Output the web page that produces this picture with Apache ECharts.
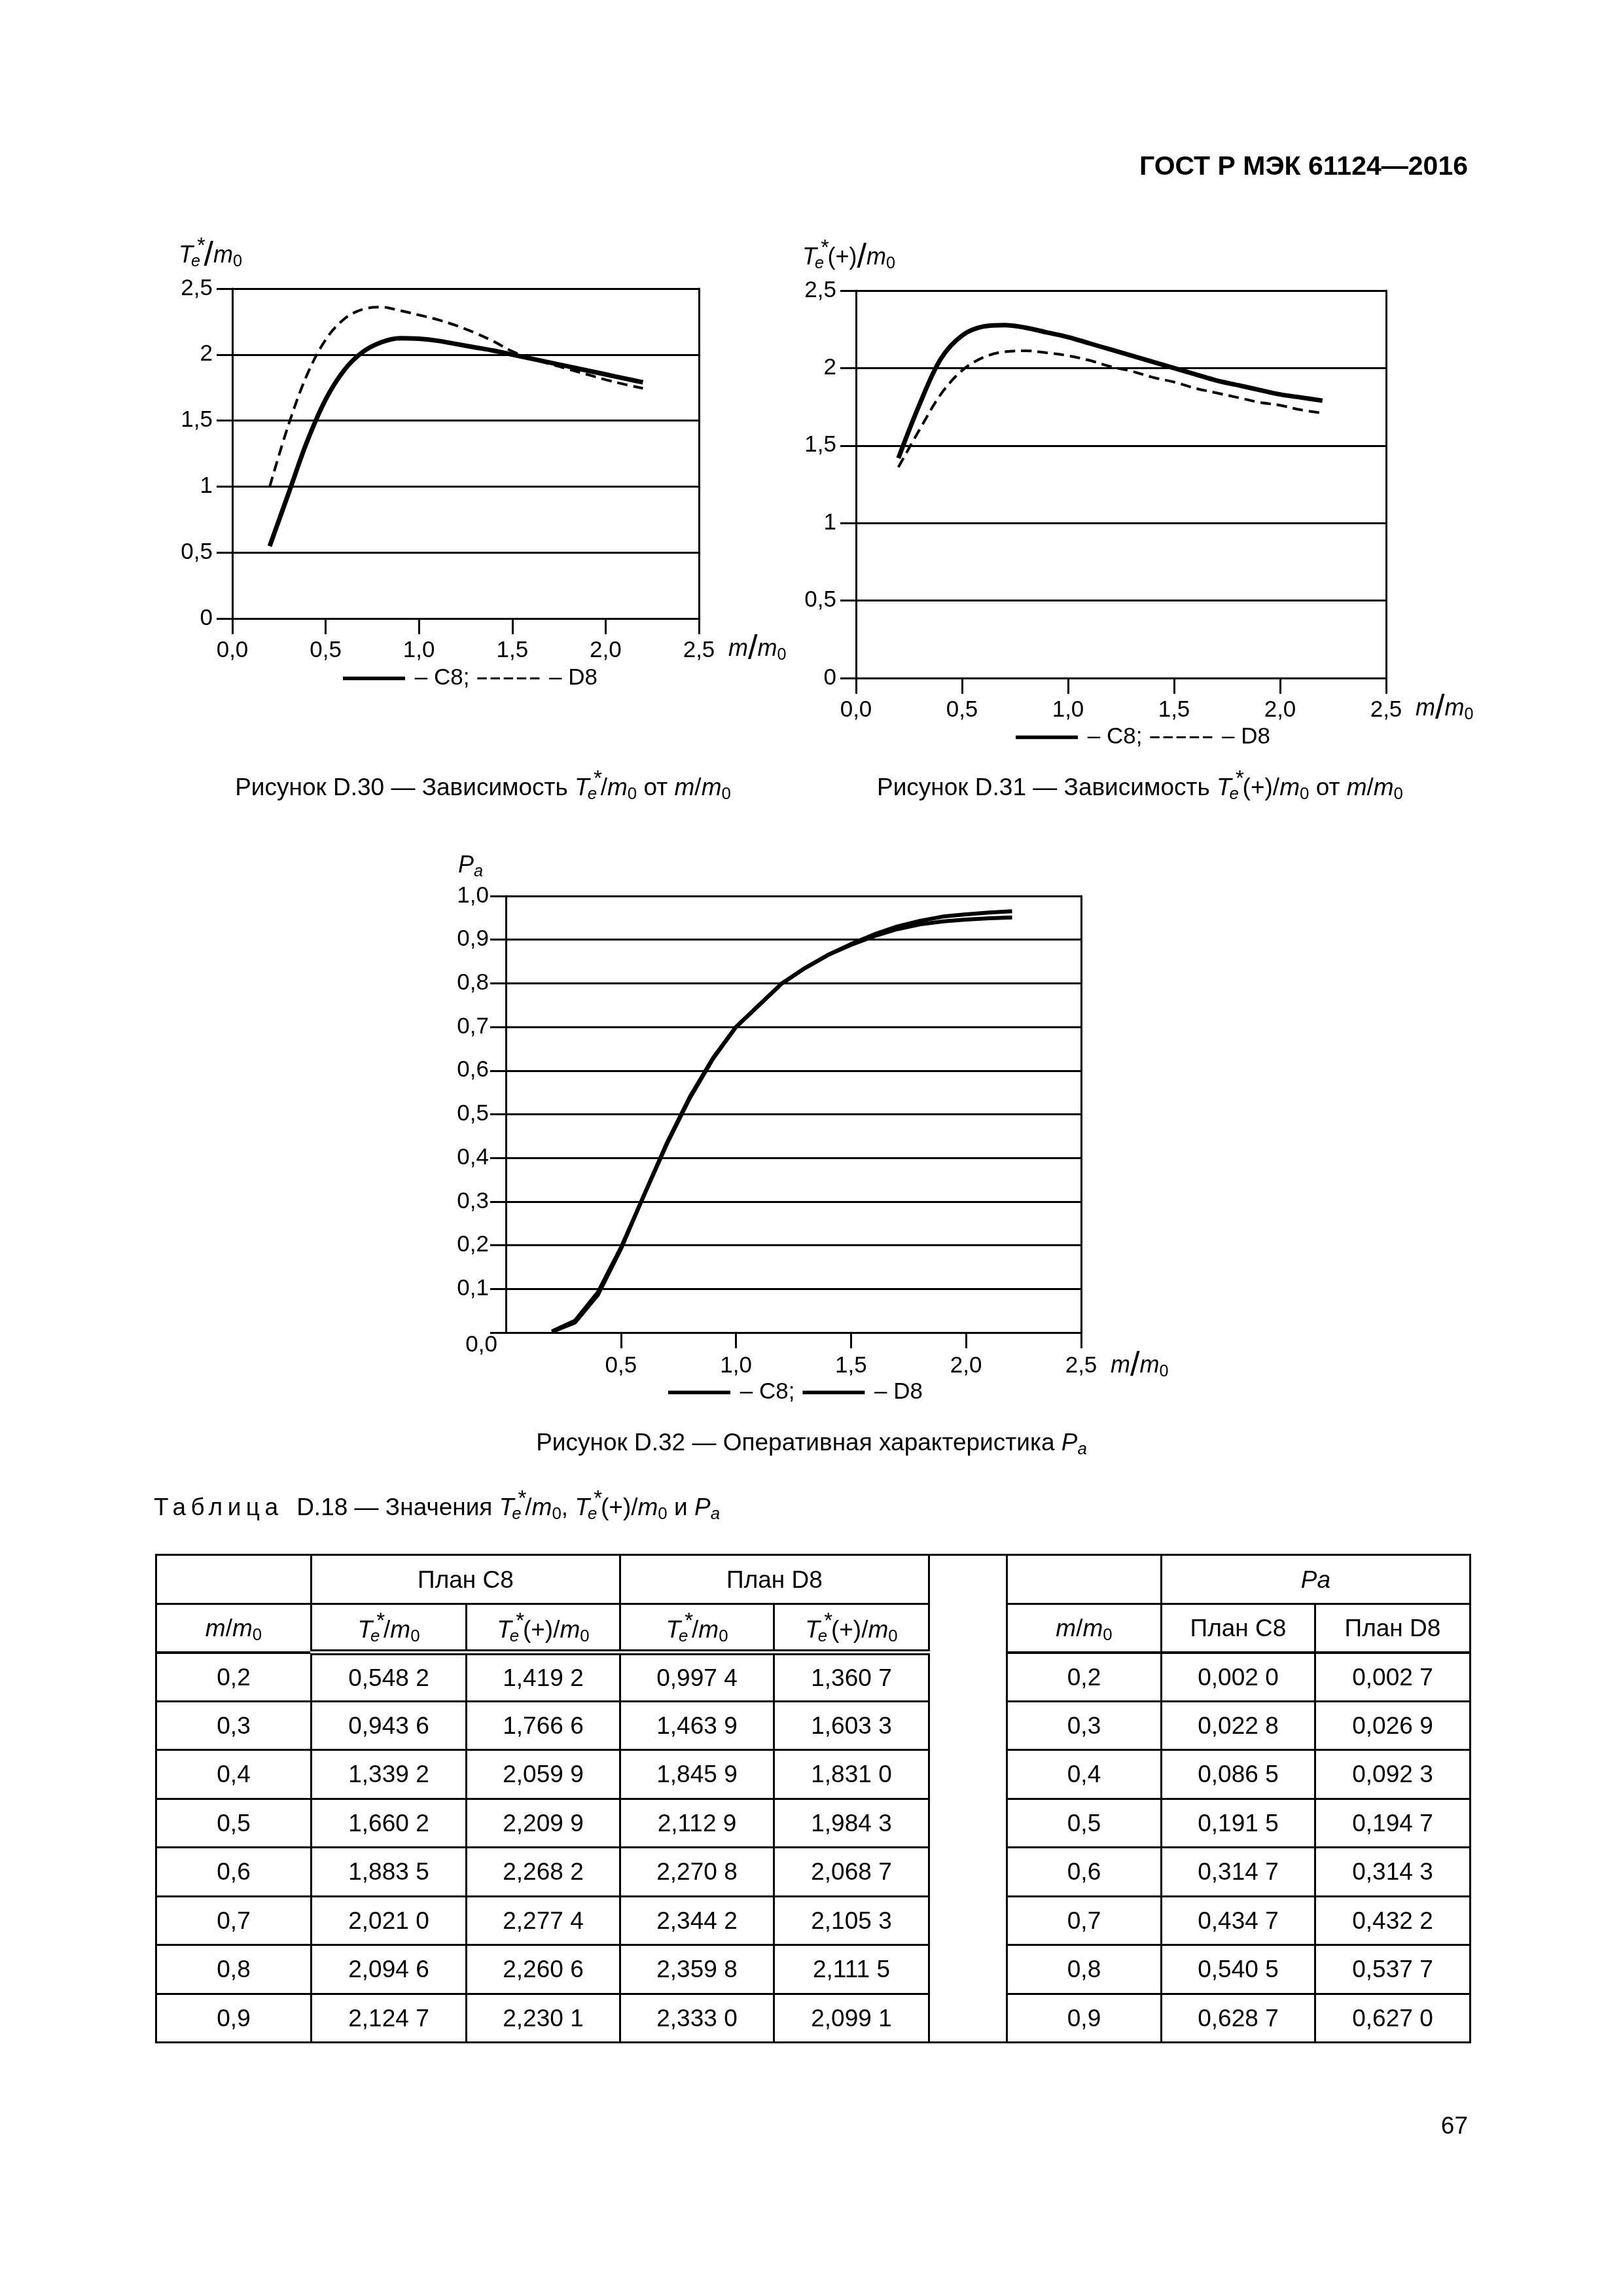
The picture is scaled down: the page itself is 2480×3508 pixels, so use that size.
<!DOCTYPE html>
<html><head><meta charset="utf-8">
<script src="https://cdn.jsdelivr.net/npm/echarts@6/dist/echarts.min.js"></script>
<style>
html,body{margin:0;padding:0;background:#fff;}
body{width:2480px;height:3508px;position:relative;overflow:hidden;font-family:"Liberation Sans",Arial,sans-serif;color:#000;}
#chart{position:absolute;left:0;top:0;width:2480px;height:3508px;}
.t{position:absolute;white-space:nowrap;line-height:1;z-index:2;}
.ss{display:inline-block;position:relative;width:0.46em;height:1em;}
.ss .sb{position:absolute;left:-0.12em;top:0.87em;font-size:0.7em;line-height:1;font-style:italic;}
.ss .sp{position:absolute;left:0.19em;top:-0.18em;font-size:0.9em;line-height:1;}
sub{font-size:0.7em;vertical-align:-0.25em;line-height:0;}
.sl{font-size:1.45em;vertical-align:-0.1em;line-height:0;}
#tbl{position:absolute;left:237px;top:2374px;border-collapse:collapse;table-layout:fixed;font-size:37px;z-index:2;}
#tbl td{border:3px solid #000;text-align:center;vertical-align:middle;padding:0;line-height:1;}
#tbl tr.hd td.dbl{border-bottom:9px double #000;}
#tbl tr.hd td.sg{border-bottom:4px solid #000;}
</style></head>
<body>
<div id="chart"></div>
<div id="over"></div>
<script>
// ---------- data ----------
const mRatio = [0.2,0.3,0.4,0.5,0.6,0.7,0.8,0.9,1.0,1.1,1.2,1.3,1.4,1.5,1.6,1.7,1.8,1.9,2.0,2.1,2.2];
const teC8  = [0.5482,0.9436,1.3392,1.6602,1.8835,2.0210,2.0946,2.1247,2.12,2.105,2.08,2.055,2.03,2.00,1.97,1.94,1.91,1.88,1.85,1.82,1.79];
const teD8  = [0.9974,1.4639,1.8459,2.1129,2.2708,2.3442,2.3598,2.3330,2.30,2.265,2.22,2.165,2.10,2.025,1.97,1.93,1.89,1.85,1.81,1.775,1.745];
const tepC8 = [1.4192,1.7666,2.0599,2.2099,2.2682,2.2774,2.2606,2.2301,2.20,2.16,2.12,2.08,2.04,2.00,1.96,1.92,1.89,1.86,1.83,1.81,1.79];
const tepD8 = [1.3607,1.6033,1.8310,1.9843,2.0687,2.1053,2.1115,2.0991,2.08,2.05,2.01,1.98,1.94,1.91,1.87,1.84,1.81,1.78,1.76,1.73,1.71];
const paC8  = [0.0020,0.0228,0.0865,0.1915,0.3147,0.4347,0.5405,0.6287,0.70,0.75,0.80,0.835,0.865,0.89,0.912,0.930,0.943,0.953,0.958,0.962,0.965];
const paD8  = [0.0027,0.0269,0.0923,0.1947,0.3143,0.4322,0.5377,0.6270,0.70,0.75,0.80,0.835,0.865,0.888,0.908,0.924,0.935,0.942,0.946,0.949,0.951];
const tableRows = 8; // first 8 points (0,2 ... 0,9) are tabulated

// ---------- text overlays ----------
const TE = '<i>T</i><span class="ss"><span class="sp">*</span><span class="sb">e</span></span>';
const M0 = '<i>m</i><sub>0</sub>';
const MM0 = '<i>m</i>/<i>m</i><sub>0</sub>';
const MM0big = '<i>m</i><span class="sl">/</span><i>m</i><sub>0</sub>';
const FONT = '"Liberation Sans", Arial, sans-serif';
const over = document.getElementById('over');
function place(html, o){
  const d = document.createElement('div');
  d.className = 't';
  const s = o.size;
  d.style.fontSize = s + 'px';
  if (o.bold) d.style.fontWeight = 'bold';
  d.style.top = (o.base - 0.8465 * s) + 'px';
  if (o.left !== undefined) d.style.left = o.left + 'px';
  if (o.right !== undefined) d.style.right = (2480 - o.right) + 'px';
  if (o.cx !== undefined) { d.style.left = o.cx + 'px'; d.style.transform = 'translateX(-50%)'; }
  d.innerHTML = html;
  over.appendChild(d);
}
place('ГОСТ Р МЭК 61124—2016', {right:2243, base:268, size:41, bold:true});
place(TE + '<span class="sl">/</span>' + M0, {left:273, base:395, size:36});
place(TE + '(+)<span class="sl">/</span>' + M0, {left:1226, base:398, size:36});
place('<i>P</i><sub><i>a</i></sub>', {left:700, base:1333, size:36});
place(MM0big, {left:1113, base:1002, size:36});
place(MM0big, {left:2163, base:1093, size:36});
place(MM0big, {left:1697, base:2097, size:36});
place('Рисунок D.30 — Зависимость ' + TE + '/' + M0 + ' от ' + MM0, {cx:738, base:1209, size:37});
place('Рисунок D.31 — Зависимость ' + TE + '(+)/' + M0 + ' от ' + MM0, {cx:1742, base:1209, size:37});
place('Рисунок D.32 — Оперативная характеристика <i>P</i><sub><i>a</i></sub>', {cx:1240, base:2216, size:37});
place('<span style="letter-spacing:7.5px">Таблица</span>&nbsp; D.18 — Значения ' + TE + '/' + M0 + ', ' + TE + '(+)/' + M0 + ' и <i>P</i><sub><i>a</i></sub>', {left:235, base:2309, size:37});
place('67', {right:2243, base:3260, size:37});

// ---------- table ----------
const fmt4 = v => { const s = v.toFixed(4).replace('.', ','); return s.slice(0,-1) + ' ' + s.slice(-1); };
const fmt1 = v => v.toFixed(1).replace('.', ',');
const colW = [237,237,235,235,237,119,236,235,237];
let h = '<table id="tbl"><colgroup>' + colW.map(w => '<col style="width:' + w + 'px">').join('') + '</colgroup>';
h += '<tr style="height:75px"><td></td><td colspan="2">План C8</td><td colspan="2">План D8</td><td rowspan="10"></td><td></td><td colspan="2"><i>Pa</i></td></tr>';
h += '<tr style="height:74px" class="hd"><td class="sg">' + MM0 + '</td><td class="dbl">' + TE + '/' + M0 + '</td><td class="dbl">' + TE + '(+)/' + M0 +
     '</td><td class="dbl">' + TE + '/' + M0 + '</td><td class="dbl">' + TE + '(+)/' + M0 + '</td><td class="sg">' + MM0 + '</td><td class="sg">План C8</td><td class="sg">План D8</td></tr>';
for (let i = 0; i < tableRows; i++) {
  h += '<tr style="height:74.5px"><td>' + fmt1(mRatio[i]) + '</td><td>' + fmt4(teC8[i]) + '</td><td>' + fmt4(tepC8[i]) + '</td><td>' + fmt4(teD8[i]) + '</td><td>' + fmt4(tepD8[i]) +
       '</td><td>' + fmt1(mRatio[i]) + '</td><td>' + fmt4(paC8[i]) + '</td><td>' + fmt4(paD8[i]) + '</td></tr>';
}
h += '</table>';
over.insertAdjacentHTML('beforeend', h);

// ---------- charts ----------
const pairs = ys => mRatio.map((x, i) => [x, ys[i]]);
const lab = {fontSize:35, fontFamily:FONT, color:'#000'};
const blk = {color:'#000', width:3};
function xAx(grid, showMin, margin){
  return {type:'value', gridIndex:grid, min:0, max:2.5, interval:0.5,
    axisLine:{show:true, onZero:false, lineStyle:blk},
    axisTick:{show:true, length:24, inside:false, lineStyle:blk},
    splitLine:{show:false},
    axisLabel:Object.assign({margin:margin, showMinLabel:showMin, formatter:v => fmt1(v)}, lab)};
}
function yAx(grid, max, step, fmt, margin, rich){
  const a = {type:'value', gridIndex:grid, min:0, max:max, interval:step,
    axisLine:{show:true, onZero:false, lineStyle:blk},
    axisTick:{show:true, length:24, inside:false, lineStyle:blk},
    splitLine:{show:true, lineStyle:blk},
    axisLabel:Object.assign({margin:margin, formatter:fmt}, lab)};
  if (rich) a.axisLabel.rich = rich;
  return a;
}
function yRight(grid, max){
  return {type:'value', gridIndex:grid, min:0, max:max, position:'right',
    axisLine:{show:true, onZero:false, lineStyle:blk}, axisTick:{show:false}, axisLabel:{show:false}, splitLine:{show:false}};
}
const yfmt = v => String(v).replace('.', ',');
const paRich = {n:Object.assign({padding:[0,13,0,0]}, lab), z:Object.assign({padding:[38,0,0,0]}, lab)};
const paFmt = v => v === 0 ? '{z|0,0}' : '{n|' + fmt1(v) + '}';

function line(name, data, xi, yi, width, dash, smooth){
  return {type:'line', name:name, xAxisIndex:xi, yAxisIndex:yi, data:pairs(data), symbol:'none', smooth:smooth,
    lineStyle:{color:'#000', width:width, type:dash || 'solid'}, itemStyle:{color:'#000'}, z:3};
}
// legend icons: thick bar for solid lines, five thin dashes for dashed lines
const ICON_SOLID = 'path://M0 0H0.01V0.01H0Z M0 10H0.01V10.01H0Z M0 1.5H100V8.5H0Z';
const ICON_DASH = 'path://M0 0H0.01V0.01H0Z M0 10H0.01V10.01H0Z M0 3H15V7H0Z M21 3H36V7H21Z M42 3H57V7H42Z M63 3H78V7H63Z M84 3H99V7H84Z';
const legFmt = n => n.startsWith('C8') ? ' – C8;' : ' – D8';
function leg(items, left, cy){
  return {data:items, left:left, top:cy - 21, orient:'horizontal', itemWidth:95, itemHeight:8, itemGap:12,
    symbolKeepAspect:false, itemStyle:{color:'#000', borderWidth:0},
    formatter:legFmt, textStyle:{fontSize:35, fontFamily:FONT, color:'#000'}, selectedMode:false};
}

const option = {
  animation:false,
  backgroundColor:'transparent',
  grid:[
    {left:355, top:441, width:713, height:504},
    {left:1308, top:444, width:810, height:592},
    {left:773, top:1369, width:879, height:667}
  ],
  xAxis:[ xAx(0, true, 32), xAx(1, true, 32), xAx(2, false, 34) ],
  yAxis:[
    yAx(0, 2.5, 0.5, yfmt, 30), yRight(0, 2.5),
    yAx(1, 2.5, 0.5, yfmt, 30), yRight(1, 2.5),
    yAx(2, 1.0, 0.1, paFmt, 13, paRich), yRight(2, 1.0)
  ],
  legend:[
    leg([{name:'C8', icon:ICON_SOLID}, {name:'D8', icon:ICON_DASH}], 519, 1035),
    leg([{name:'C8+', icon:ICON_SOLID}, {name:'D8+', icon:ICON_DASH}], 1547, 1125),
    leg([{name:'C8a', icon:ICON_SOLID}, {name:'D8a', icon:ICON_SOLID}], 1016, 2126)
  ],
  series:[
    line('C8', teC8, 0, 0, 7, null, 0.35),
    line('D8', teD8, 0, 0, 4, [16,9], 0.35),
    line('C8+', tepC8, 1, 2, 7, null, 0.35),
    line('D8+', tepD8, 1, 2, 4, [16,9], 0.35),
    line('C8a', paC8, 2, 4, 6, null, false),
    line('D8a', paD8, 2, 4, 6, null, false)
  ]
};
const chart = echarts.init(document.getElementById('chart'), null, {renderer:'canvas'});
chart.setOption(option);
</script>
</body></html>
